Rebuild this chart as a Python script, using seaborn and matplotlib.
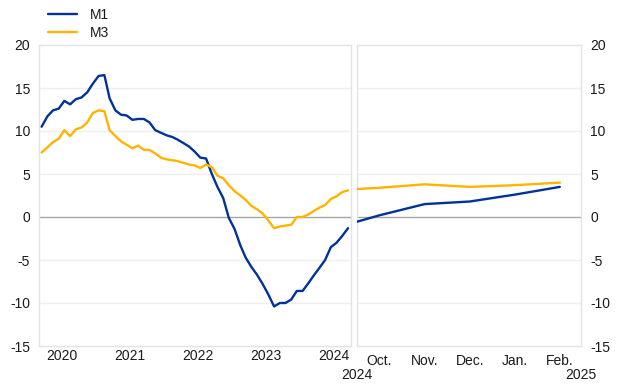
import numpy as np
import pandas as pd
import matplotlib
matplotlib.use("Agg")
import matplotlib.pyplot as plt
import seaborn as sns
from matplotlib.lines import Line2D

# ---------------- data ----------------
series_names = ["M1", "M3"]
series_colors = ["#003299", "#FFB400"]

hist_start = "2020-03-01"  # monthly, Mar 2020 - Sep 2024
m1_hist = [10.5, 11.7, 12.4, 12.6, 13.5, 13.1, 13.7, 13.9, 14.5, 15.5, 16.4, 16.5,
           13.8, 12.4, 11.9, 11.8, 11.3, 11.4, 11.4, 11.0, 10.1, 9.8, 9.5, 9.3,
           9.0, 8.6, 8.2, 7.6, 6.9, 6.8, 5.0, 3.5, 2.2, -0.1, -1.4, -3.3,
           -4.7, -5.8, -6.7, -7.8, -9.0, -10.4, -10.0, -10.0, -9.6, -8.6, -8.6, -7.7,
           -6.8, -5.9, -5.0, -3.5, -3.0, -2.2, -1.3]
m3_hist = [7.5, 8.1, 8.7, 9.1, 10.1, 9.4, 10.2, 10.4, 11.0, 12.1, 12.4, 12.3,
           10.1, 9.4, 8.8, 8.4, 8.0, 8.3, 7.8, 7.8, 7.4, 6.9, 6.7, 6.6,
           6.5, 6.3, 6.1, 6.0, 5.7, 6.1, 5.8, 4.8, 4.5, 3.7, 3.0, 2.5,
           2.0, 1.3, 0.9, 0.4, -0.4, -1.3, -1.1, -1.0, -0.9, 0.0, 0.0, 0.3,
           0.7, 1.1, 1.4, 2.1, 2.4, 2.9, 3.1]

recent_months = ["Sep.", "Oct.", "Nov.", "Dec.", "Jan.", "Feb."]
m1_recent = [-1.3, 0.2, 1.5, 1.8, 2.6, 3.5]
m3_recent = [3.1, 3.4, 3.8, 3.5, 3.7, 4.0]

year_labels = ["2020", "2021", "2022", "2023", "2024"]
recent_year_labels = ["2024", "2025"]
y_ticks = [20, 15, 10, 5, 0, -5, -10, -15]

# ---------------- tables ----------------
dates = pd.date_range(hist_start, periods=len(m1_hist), freq="MS") + pd.Timedelta(days=14)
hist_df = pd.DataFrame({
    "date": np.concatenate([dates, dates]),
    "value": m1_hist + m3_hist,
    "series": ["M1"] * len(m1_hist) + ["M3"] * len(m3_hist),
})
pos = np.arange(len(recent_months))
recent_df = pd.DataFrame({
    "pos": np.concatenate([pos, pos]),
    "value": m1_recent + m3_recent,
    "series": ["M1"] * len(m1_recent) + ["M3"] * len(m3_recent),
})
palette = dict(zip(series_names, series_colors))

# ---------------- figure ----------------
sns.set_theme(style="white")
plt.rcParams["font.family"] = ["Liberation Sans", "DejaVu Sans"]
plt.rcParams["font.size"] = 10

fig = plt.figure(figsize=(6.2, 3.87), dpi=100)
W, H = 620, 387
bottom = (H - 346) / H
height = (346 - 45) / H
axL = fig.add_axes([39 / W, bottom, 312 / W, height])
axR = fig.add_axes([357 / W, bottom, 224 / W, height])

lw = 1.7
sns.lineplot(data=hist_df, x="date", y="value", hue="series", palette=palette,
             estimator=None, linewidth=lw, legend=False, ax=axL, zorder=3)
sns.lineplot(data=recent_df, x="pos", y="value", hue="series", palette=palette,
             estimator=None, linewidth=lw, legend=False, ax=axR, zorder=3)

frame_col = "#e3e3e3"
grid_col = "#efefef"
text_col = "#1a1a1a"
for ax in (axL, axR):
    ax.set_ylim(-15, 20)
    ax.set_yticks(y_ticks)
    ax.set_yticklabels([str(v) for v in y_ticks])
    ax.set_xlabel("")
    ax.set_ylabel("")
    for v in y_ticks:
        if v == 0:
            ax.axhline(0, color="#a6a6a6", lw=1.0, zorder=2)
        elif v not in (20, -15):
            ax.axhline(v, color=grid_col, lw=1.0, zorder=1)
    for sp in ax.spines.values():
        sp.set_color(frame_col)
        sp.set_linewidth(1.0)
    ax.tick_params(axis="y", length=0, pad=6.5, labelsize=10, colors=text_col)
    ax.tick_params(axis="x", which="both", length=4, color="#dddddd",
                   pad=2, labelsize=10, labelcolor=text_col)

# left axis
axL.set_xlim(pd.Timestamp("2020-03-01"), pd.Timestamp("2024-10-01"))
axL.set_xticks(pd.to_datetime([f"{y}-07-01" for y in year_labels]))
axL.set_xticklabels(year_labels)
axL.tick_params(axis="x", which="major", length=0)
axL.set_xticks(pd.to_datetime([f"{int(y)+1}-01-01" for y in year_labels[:-1]]), minor=True)

# right axis
axR.set_xlim(0.5, 5.47)
axR.set_xticks(pos[1:])
axR.set_xticklabels(recent_months[1:])
axR.yaxis.tick_right()
axR.tick_params(axis="y", left=False, right=False)

axR.annotate(recent_year_labels[0], xy=(0, 0), xycoords="axes fraction",
             xytext=(0, -22), textcoords="offset pixels", ha="center", va="top",
             fontsize=10, color=text_col)
axR.annotate(recent_year_labels[1], xy=(1, 0), xycoords="axes fraction",
             xytext=(0, -22), textcoords="offset pixels", ha="center", va="top",
             fontsize=10, color=text_col)

handles = [Line2D([0], [0], color=c, lw=lw) for c in series_colors]
fig.legend(handles, series_names, loc="upper left", bbox_to_anchor=(48 / W, 1 - 8 / H),
           frameon=False, borderpad=0, borderaxespad=0, handlelength=2.1,
           handletextpad=0.95, labelspacing=0.3, fontsize=10,
           labelcolor=text_col)

fig.savefig("out.png", dpi=100)
